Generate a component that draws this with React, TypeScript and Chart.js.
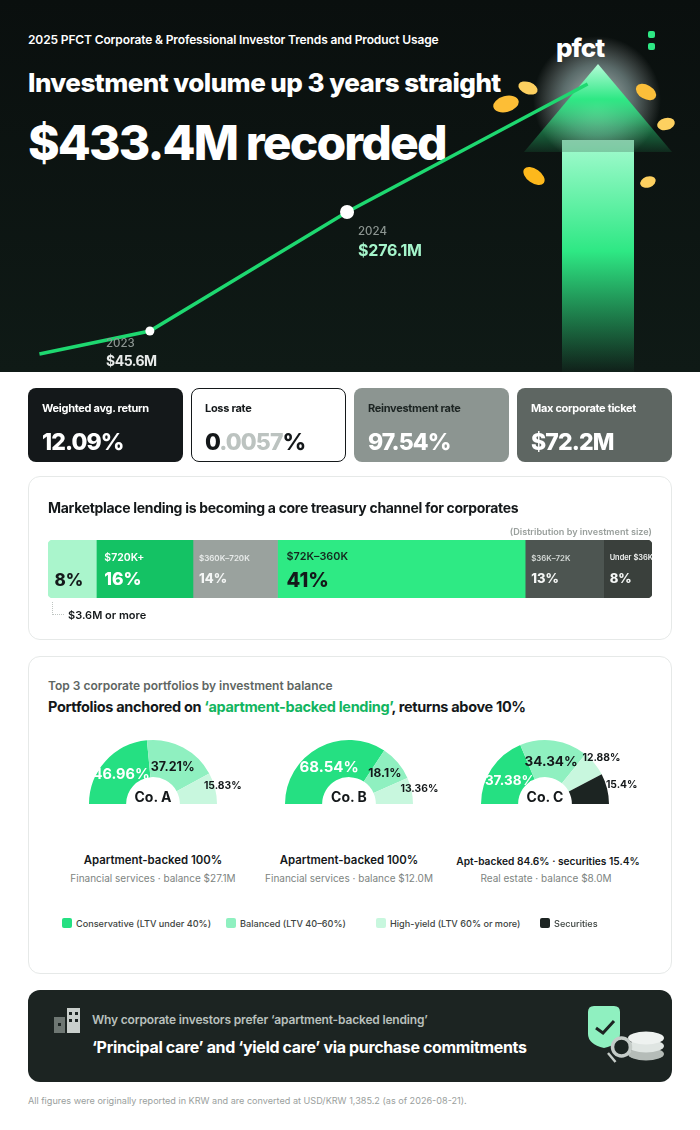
import { useEffect, useRef } from 'react';
import type { CSSProperties, ReactNode } from 'react';
import { Chart, registerables } from 'chart.js';

Chart.register(...registerables);

const FONT = 'Inter, "Noto Sans", sans-serif';

// hero trend. The last point is drawn above its true value (433.4) so it lands in the arrow
const trendYears = [2022.44, 2023, 2024, 2025.22];
const trendValues = [1, 45.6, 276.1, 524];

// investment size split
const sizeBands = ['', '$720K+', '$360K–720K', '$72K–360K', '$36K–72K', 'Under $36K'];
const sizeShares = [8, 16, 14, 41, 13, 8];
const sizeColors = ['#aaf5cc', '#14c264', '#9aa29e', '#2eea84', '#4d5551', '#3a403c'];

// top 3 portfolios
const coAValues = [46.96, 37.21, 15.83];
const coBValues = [68.54, 18.1, 13.36];
const coCValues = [37.38, 34.34, 12.88, 15.4];
const portfolioColors = ['#25e082', '#8ff0c0', '#c8f7de', '#1c2422'];
const legendLabels = ['Conservative (LTV under 40%)', 'Balanced (LTV 40–60%)', 'High-yield (LTV 60% or more)', 'Securities'];

function T({ x, y, size, weight = 600, color = '#14181a', ls = 0, center, right, children }: {
  x: number; y: number; size: number; weight?: number; color?: string; ls?: number;
  center?: boolean; right?: boolean; children: ReactNode;
}) {
  const style: CSSProperties = {
    position: 'absolute',
    left: x,
    top: y,
    fontSize: size,
    fontWeight: weight,
    color,
    letterSpacing: ls,
    lineHeight: 1,
    whiteSpace: 'nowrap',
    transform: `translate(${center ? '-50%' : right ? '-100%' : '0'}, -50%)`,
  };
  return <div style={style}>{children}</div>;
}

function Box({ x, y, w, h, style }: { x: number; y: number; w: number; h: number; style?: CSSProperties }) {
  return <div style={{ position: 'absolute', left: x, top: y, width: w, height: h, ...style }} />;
}

function TrendLine() {
  const ref = useRef<HTMLCanvasElement>(null);
  useEffect(() => {
    if (!ref.current) return;
    const chart = new Chart(ref.current, {
      type: 'line',
      data: {
        datasets: [{
          data: trendYears.map((year, i) => ({ x: year, y: trendValues[i] })),
          borderColor: '#1ed870',
          borderWidth: 3.5,
          tension: 0,
          pointRadius: [0, 4.5, 7, 0],
          pointBackgroundColor: '#fff',
          pointBorderWidth: 0,
        }],
      },
      options: {
        responsive: false,
        animation: false,
        layout: { padding: 0 },
        plugins: { legend: { display: false }, tooltip: { enabled: false } },
        scales: {
          x: { type: 'linear', display: false, min: 2022.24, max: 2025.79 },
          y: { type: 'linear', display: false, min: -33.8, max: 686.7 },
        },
      },
    });
    return () => chart.destroy();
  }, []);
  return <canvas ref={ref} width={700} height={372} style={{ position: 'absolute', left: 0, top: 0 }} />;
}

const bandStyles = [
  { name: 0, nameColor: '#14181a', nameY: 0, value: 17, valueColor: '#14181a', valueY: 41, pad: 6.5 },
  { name: 10.5, nameColor: '#ffffff', nameY: 18, value: 17.5, valueColor: '#ffffff', valueY: 40, pad: 8 },
  { name: 8, nameColor: '#e8ebea', nameY: 19, value: 13, valueColor: '#f4f6f5', valueY: 39.5, pad: 6 },
  { name: 10.8, nameColor: '#14281e', nameY: 17, value: 20, valueColor: '#14181a', valueY: 41, pad: 9 },
  { name: 7.8, nameColor: '#d4d9d6', nameY: 19, value: 13, valueColor: '#f4f6f5', valueY: 39, pad: 6 },
  { name: 7.4, nameColor: '#f0f2f1', nameY: 18, value: 13, valueColor: '#f4f6f5', valueY: 39, pad: 6 },
];

function SizeBar() {
  const ref = useRef<HTMLCanvasElement>(null);
  useEffect(() => {
    if (!ref.current) return;
    const last = sizeShares.length - 1;
    const chart = new Chart(ref.current, {
      type: 'bar',
      data: {
        labels: ['Share'],
        datasets: sizeShares.map((share, i) => ({
          label: sizeBands[i],
          data: [share],
          backgroundColor: sizeColors[i],
          borderWidth: 0,
          borderSkipped: false,
          borderRadius: {
            topLeft: i === 0 ? 5 : 0,
            bottomLeft: i === 0 ? 5 : 0,
            topRight: i === last ? 5 : 0,
            bottomRight: i === last ? 5 : 0,
          },
          categoryPercentage: 1,
          barPercentage: 1,
        })),
      },
      options: {
        indexAxis: 'y',
        responsive: false,
        animation: false,
        layout: { padding: 0 },
        plugins: { legend: { display: false }, tooltip: { enabled: false } },
        scales: {
          x: { display: false, stacked: true, min: 0, max: 100 },
          y: { display: false, stacked: true },
        },
      },
      plugins: [{
        id: 'bandLabels',
        afterDatasetsDraw(c) {
          const { ctx } = c;
          ctx.save();
          ctx.textBaseline = 'middle';
          ctx.textAlign = 'left';
          sizeShares.forEach((share, i) => {
            const el = c.getDatasetMeta(i).data[0] as any;
            const s = bandStyles[i];
            const left = el.base + s.pad;
            if (sizeBands[i]) {
              ctx.font = `600 ${s.name}px ${FONT}`;
              ctx.fillStyle = s.nameColor;
              ctx.fillText(sizeBands[i], left, s.nameY);
            }
            ctx.font = `800 ${s.value}px ${FONT}`;
            ctx.fillStyle = s.valueColor;
            ctx.fillText(`${share}%`, left, s.valueY);
          });
          ctx.restore();
        },
      }],
    });
    return () => chart.destroy();
  }, []);
  return <canvas ref={ref} width={604} height={58} style={{ position: 'absolute', left: 48, top: 540 }} />;
}

function Gauge({ cx, name, values, labelRadius, labelSize }: {
  cx: number; name: string; values: number[]; labelRadius: number[]; labelSize: number[];
}) {
  const ref = useRef<HTMLCanvasElement>(null);
  useEffect(() => {
    if (!ref.current) return;
    const chart = new Chart(ref.current, {
      type: 'doughnut',
      data: {
        labels: legendLabels.slice(0, values.length),
        datasets: [{
          data: values,
          backgroundColor: portfolioColors.slice(0, values.length),
          borderWidth: 0,
        }],
      },
      options: {
        responsive: false,
        animation: false,
        rotation: -90,
        circumference: 180,
        radius: 64,
        cutout: '42%',
        layout: { padding: 0 },
        plugins: { legend: { display: false }, tooltip: { enabled: false } },
      },
      plugins: [{
        id: 'sliceLabels',
        afterDatasetsDraw(c) {
          const { ctx } = c;
          ctx.save();
          ctx.textAlign = 'center';
          ctx.textBaseline = 'middle';
          c.getDatasetMeta(0).data.forEach((arc: any, i) => {
            const mid = (arc.startAngle + arc.endAngle) / 2;
            ctx.font = `700 ${labelSize[i]}px ${FONT}`;
            ctx.fillStyle = i === 0 ? '#ffffff' : '#14181a';
            ctx.fillText(`${values[i]}%`, arc.x + labelRadius[i] * Math.cos(mid), arc.y + labelRadius[i] * Math.sin(mid));
          });
          ctx.restore();
        },
      }],
    });
    return () => chart.destroy();
  }, [values, labelRadius, labelSize]);
  return (
    <>
      <canvas ref={ref} width={196} height={80} style={{ position: 'absolute', left: cx - 98, top: 732 }} />
      <T x={cx} y={797} size={14} weight={700} center>{name}</T>
    </>
  );
}

function Card({ x, bg, border, labelColor, label, children }: {
  x: number; bg: string; border?: string; labelColor: string; label: string; children: ReactNode;
}) {
  return (
    <>
      <Box x={x} y={388} w={155} h={74} style={{ background: bg, borderRadius: 8, boxSizing: 'border-box', border }} />
      <T x={x + 14} y={408} size={11} weight={700} color={labelColor} ls={-0.3}>{label}</T>
      <T x={x + 14} y={442} size={23} weight={800} color="#fff" ls={-0.9}>{children}</T>
    </>
  );
}

const coins = [
  { x: 506, y: 104, rx: 13, ry: 8, rot: -15, fill: '#fdbe36' },
  { x: 528, y: 88, rx: 10, ry: 6, rot: 20, fill: '#fdd060' },
  { x: 646, y: 92, rx: 11, ry: 7, rot: 30, fill: '#fbbf3a' },
  { x: 666, y: 124, rx: 9, ry: 6, rot: -15, fill: '#fdd060' },
  { x: 534, y: 176, rx: 12, ry: 7, rot: 35, fill: '#fdb81c' },
  { x: 648, y: 182, rx: 8, ry: 5.5, rot: -20, fill: '#fdd060' },
];

function HeroArt() {
  return (
    <svg width={700} height={372} style={{ position: 'absolute', left: 0, top: 0 }}>
      <defs>
        <radialGradient id="glow">
          <stop offset="0" stopColor="#fff" stopOpacity="0.7" />
          <stop offset="0.55" stopColor="#dff" stopOpacity="0.38" />
          <stop offset="1" stopColor="#fff" stopOpacity="0" />
        </radialGradient>
        <linearGradient id="head" x1="0" y1="0" x2="0" y2="1">
          <stop offset="0" stopColor="#b5fbd8" />
          <stop offset="0.4" stopColor="#2ee884" />
          <stop offset="0.72" stopColor="#2ee884" stopOpacity="0.45" />
          <stop offset="1" stopColor="#2ee884" stopOpacity="0.1" />
        </linearGradient>
        <linearGradient id="shaft" x1="0" y1="0" x2="0" y2="1">
          <stop offset="0" stopColor="#a5fbd0" />
          <stop offset="0.48" stopColor="#2ee884" />
          <stop offset="1" stopColor="#2ee884" stopOpacity="0.03" />
        </linearGradient>
      </defs>
      <circle cx={597} cy={100} r={64} fill="url(#glow)" />
      <polygon points="598,64 672,152 524,152" fill="url(#head)" />
      <rect x={562} y={140} width={72} height={232} fill="url(#shaft)" />
      <rect x={562} y={140} width={72} height={12} fill="#0a0f0e" opacity={0.2} />
      {coins.map((c, i) => (
        <ellipse key={i} cx={c.x} cy={c.y} rx={c.rx} ry={c.ry} fill={c.fill} transform={`rotate(${c.rot} ${c.x} ${c.y})`} />
      ))}
      <rect x={648} y={31} width={7} height={7} rx={2} fill="#2ee884" />
      <rect x={648} y={43} width={7} height={7} rx={2} fill="#2ee884" />
    </svg>
  );
}

function BannerArt() {
  return (
    <svg width={700} height={100} style={{ position: 'absolute', left: 0, top: 990 }}>
      <rect x={54} y={27} width={11} height={16} fill="#6e7773" />
      <rect x={58} y={33} width={3} height={3} fill="#1c2422" />
      <rect x={67} y={18} width={13} height={25} fill="#c9cfcc" />
      <rect x={69} y={22} width={3} height={3} fill="#1c2422" />
      <rect x={75} y={22} width={3} height={3} fill="#1c2422" />
      <rect x={69} y={29} width={3} height={3} fill="#1c2422" />
      <rect x={75} y={29} width={3} height={3} fill="#1c2422" />
      <path d="M594 16 H614 Q620 16 620 22 V44 Q620 54 604 58 Q588 54 588 44 V22 Q588 16 594 16 Z" fill="#8ff0c0" />
      <path d="M596 38 L603 43 L614 31" fill="none" stroke="#1c2422" strokeWidth={3} />
      <ellipse cx={646} cy={64} rx={18} ry={6.5} fill="#b5bcb8" />
      <ellipse cx={646} cy={56} rx={18} ry={6.5} fill="#dfe5e2" />
      <ellipse cx={646} cy={48} rx={18} ry={6.5} fill="#eef2f0" />
      <circle cx={621.5} cy={57} r={9} fill="#1c2422" fillOpacity={0.8} stroke="#c5ccc8" strokeWidth={3.5} />
      <line x1={608} y1={63} x2={615.5} y2={72} stroke="#c5ccc8" strokeWidth={2.5} />
    </svg>
  );
}

export default function App() {
  return (
    <div style={{ position: 'relative', width: 700, height: 1130, overflow: 'hidden', background: '#fff', fontFamily: FONT }}>
      <style>{'body{margin:0}'}</style>

      <Box x={0} y={0} w={700} h={372} style={{ background: 'linear-gradient(180deg,#0a0f0e,#0f1a16)' }} />
      <HeroArt />
      <T x={28} y={40} size={12} color="#fff" ls={-0.13}>2025 PFCT Corporate &amp; Professional Investor Trends and Product Usage</T>
      <T x={28} y={83} size={26} weight={800} color="#fff" ls={-0.55}>Investment volume up 3 years straight</T>
      <T x={28} y={143} size={48} weight={800} color="#fff" ls={-1.85}>$433.4M recorded</T>
      <T x={556} y={48} size={26} weight={800} color="#fff" ls={-1}>pfct</T>
      <TrendLine />
      <T x={106} y={344} size={11.5} weight={500} color="#8c9591">2023</T>
      <T x={106} y={361} size={14} weight={700} color="#e8ebea" ls={-0.5}>$45.6M</T>
      <T x={358} y={231.5} size={11.5} weight={500} color="#8c9591">2024</T>
      <T x={358} y={250} size={16} weight={700} color="#a5f5cb" ls={-0.2}>$276.1M</T>

      <Card x={28} bg="#14181a" labelColor="#fff" label="Weighted avg. return">12.09%</Card>
      <Card x={191} bg="#fff" border="1px solid #14181a" labelColor="#14181a" label="Loss rate">
        <span style={{ color: '#14181a' }}>0</span>
        <span style={{ color: '#bcc3c0' }}>.0057</span>
        <span style={{ color: '#14181a' }}>%</span>
      </Card>
      <Card x={354} bg="#8c9591" labelColor="#1c2422" label="Reinvestment rate">97.54%</Card>
      <Card x={517} bg="#5e6662" labelColor="#fff" label="Max corporate ticket">$72.2M</Card>

      <Box x={28} y={476} w={644} h={164} style={{ boxSizing: 'border-box', border: '1px solid #e6e9e8', borderRadius: 12 }} />
      <T x={48} y={508} size={14} weight={700} ls={-0.31}>Marketplace lending is becoming a core treasury channel for corporates</T>
      <T x={652} y={532} size={9.1} color="#9aa09d" right>(Distribution by investment size)</T>
      <SizeBar />
      <Box x={52} y={602} w={12} h={13} style={{ boxSizing: 'border-box', borderLeft: '1px dotted #bfc5c2', borderBottom: '1px dotted #bfc5c2' }} />
      <T x={68} y={615} size={11}>$3.6M or more</T>

      <Box x={28} y={656} w={644} h={318} style={{ boxSizing: 'border-box', border: '1px solid #e6e9e8', borderRadius: 12 }} />
      <T x={48} y={686} size={12} color="#5e6662">Top 3 corporate portfolios by investment balance</T>
      <T x={48} y={707} size={14.5} weight={700} ls={-0.33}>
        Portfolios anchored on <span style={{ color: '#12b560' }}>‘apartment-backed lending’</span>, returns above 10%
      </T>

      <Gauge cx={153} name="Co. A" values={coAValues} labelRadius={[43, 42, 72]} labelSize={[14.5, 12.5, 10.3]} />
      <Gauge cx={349} name="Co. B" values={coBValues} labelRadius={[42, 47, 72]} labelSize={[15, 12, 10.3]} />
      <Gauge cx={545} name="Co. C" values={coCValues} labelRadius={[42, 43, 73, 79]} labelSize={[13.5, 13.5, 10.3, 10.3]} />

      <T x={153} y={861} size={11.4} center>Apartment-backed 100%</T>
      <T x={153} y={878} size={10} weight={400} color="#7d8481" center>Financial services · balance $27.1M</T>
      <T x={349} y={861} size={11.4} center>Apartment-backed 100%</T>
      <T x={349} y={878} size={10} weight={400} color="#7d8481" center>Financial services · balance $12.0M</T>
      <T x={548} y={861} size={10.2} center>Apt-backed 84.6% · securities 15.4%</T>
      <T x={546} y={878} size={10} weight={400} color="#7d8481" center>Real estate · balance $8.0M</T>

      {legendLabels.map((label, i) => {
        const x = [62, 226, 376, 540][i];
        return (
          <div key={label}>
            <Box x={x} y={918} w={10} h={10} style={{ background: portfolioColors[i], borderRadius: 2 }} />
            <T x={x + 14} y={924} size={9.15} weight={500} color="#3d4441">{label}</T>
          </div>
        );
      })}

      <Box x={28} y={990} w={644} h={92} style={{ background: '#1c2422', borderRadius: 12 }} />
      <BannerArt />
      <T x={92} y={1020} size={12} color="#b9c0bd" ls={-0.17}>Why corporate investors prefer ‘apartment-backed lending’</T>
      <T x={92} y={1047} size={16} weight={700} color="#fff" ls={-0.35}>‘Principal care’ and ‘yield care’ via purchase commitments</T>

      <T x={28} y={1101} size={9.1} weight={400} color="#9aa09d">All figures were originally reported in KRW and are converted at USD/KRW 1,385.2 (as of 2026-08-21).</T>
    </div>
  );
}
